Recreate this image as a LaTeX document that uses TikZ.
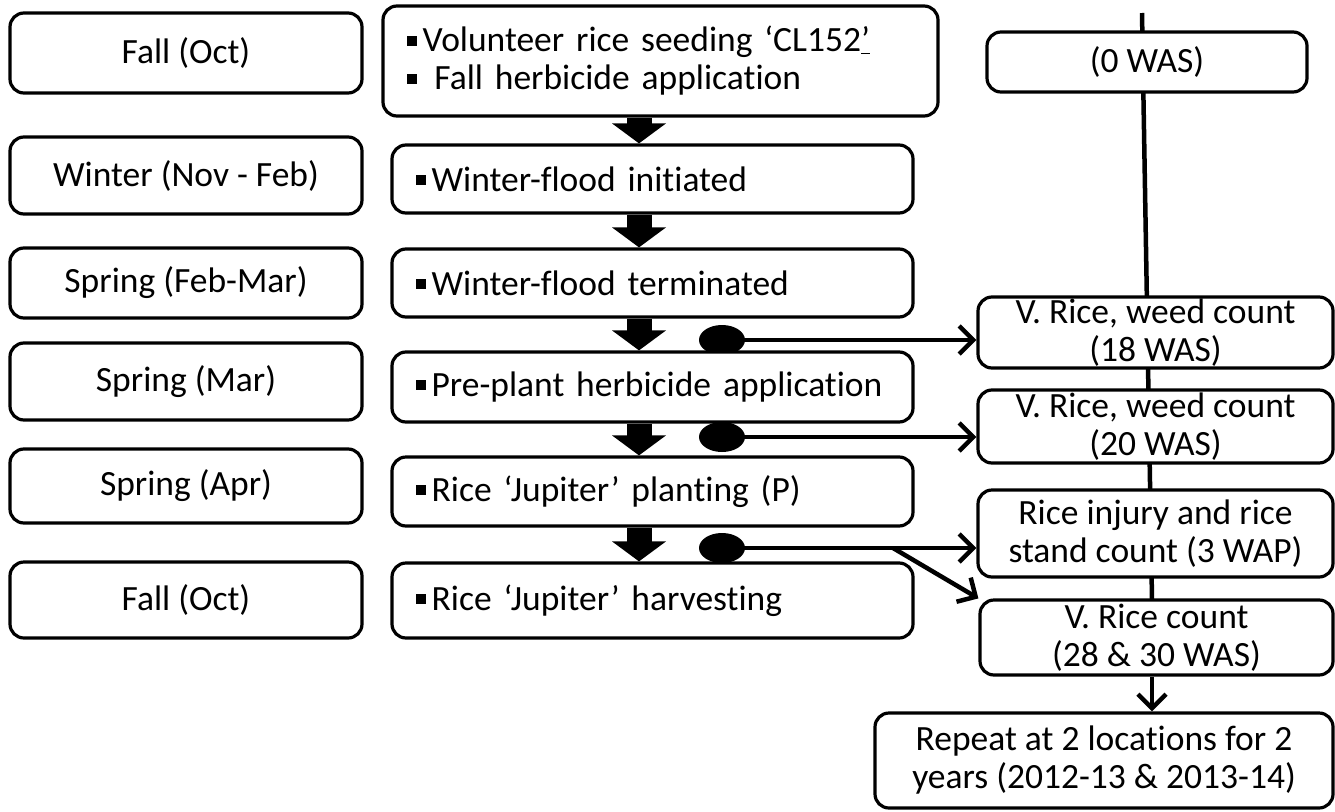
\documentclass[tikz,border=0pt]{standalone}
\usepackage{fontspec}
\setmainfont{Carlito}[Ligatures={NoCommon}]
\usetikzlibrary{arrows.meta,shapes.geometric,backgrounds}
\newcommand{\sqb}{\raisebox{0.17em}{\rule{0.27em}{0.28em}}\hspace{0.17em}}
\begin{document}
\begin{tikzpicture}[x=1pt,y=-1pt,
  box/.style={draw, line width=3.2pt, rounded corners=14pt, fill=white, inner sep=0pt,
    font=\fontsize{35.5}{38}\selectfont, align=center},
  lbox/.style={box, minimum width=352pt},
  mbox/.style={box, minimum width=521pt, text width=473pt, align=left},
  rbox/.style={box, minimum width=355pt},
  blk/.style={line width=25pt, -{Triangle[width=53pt,length=20pt]}},
  conn/.style={line width=4.5pt, -{Straight Barb[length=14pt,width=28pt]}},
  vline/.style={line width=4.5pt},
  dot/.style={ellipse, fill=black, minimum width=46pt, minimum height=30pt, inner sep=0pt},
]
\useasboundingbox (0,0) rectangle (1335,811);

% dots (behind boxes)
\node[dot] (d1) at (722,340) {};
\node[dot] (d2) at (722,437) {};
\node[dot] (d3) at (722,548) {};

% left column
\node[lbox, minimum height=80pt] (l1) at (186,53) {Fall (Oct)};
\node[lbox, minimum height=77pt] (l2) at (186,175.5) {Winter (Nov - Feb)};
\node[lbox, minimum height=70pt] (l3) at (186,283) {Spring (Feb-Mar)};
\node[lbox, minimum height=77pt] (l4) at (186,381.5) {Spring (Mar)};
\node[lbox, minimum height=74pt] (l5) at (186,486) {Spring (Apr)};
\node[lbox, minimum height=76pt] (l6) at (186,600) {Fall (Oct)};

% middle column
\node[box, minimum width=555pt, text width=507pt, align=left, minimum height=110pt] (m1) at (660.5,61)
  {\sqb Volunteer rice seeding ‘CL152\underline{’}\\\sqb{} Fall herbicide application};
\node[mbox, minimum height=68pt] (m2) at (652.5,179) {\sqb Winter-flood initiated};
\node[mbox, minimum height=68pt] (m3) at (652.5,283) {\sqb Winter-flood terminated};
\node[mbox, minimum height=70pt] (m4) at (652.5,387) {\sqb Pre-plant herbicide application};
\node[mbox, minimum height=69pt] (m5) at (652.5,491.5) {\sqb Rice ‘Jupiter’ planting (P)};
\node[mbox, minimum height=75pt] (m6) at (652.5,600.5) {\sqb Rice ‘Jupiter’ harvesting};

% right column
\node[box, minimum width=320pt, minimum height=60pt] (r1) at (1147,62) {(0 WAS)};
\node[rbox, minimum height=71pt] (r2) at (1155.5,332.5) {V. Rice, weed count\\(18 WAS)};
\node[rbox, minimum height=73pt] (r3) at (1155.5,426.5) {V. Rice, weed count\\(20 WAS)};
\node[rbox, minimum height=87pt] (r4) at (1155.5,533.5) {Rice injury and rice\\stand count (3 WAP)};
\node[box, minimum width=353pt, minimum height=75pt] (r5) at (1156.5,637.5) {V. Rice count\\(28 \& 30 WAS)};
\node[box, minimum width=458pt, minimum height=95pt] (r6) at (1104,760.5) {Repeat at 2 locations for 2\\years (2012-13 \& 2013-14)};

% vertical timeline behind right boxes
\coordinate (vt) at (1142,13);
\coordinate (vb) at (1152,600);
\begin{scope}[on background layer]
  \draw[vline] (vt) -- (vb);
\end{scope}

% block arrows
\coordinate (ax) at (639,0);
\draw[blk] (m1.south -| ax) -- (m2.north -| ax);
\draw[blk] (m2.south -| ax) -- (m3.north -| ax);
\draw[blk] (m3.south -| ax) -- (m4.north -| ax);
\draw[blk] (m4.south -| ax) -- (m5.north -| ax);
\draw[blk] (m5.south -| ax) -- (m6.north -| ax);

% sampling connectors
\draw[conn] (d1.center) -- (d1.center -| r2.west);
\draw[conn] (d2.center) -- (d2.center -| r3.west);
\draw[conn] (d3.center) -- (d3.center -| r4.west);
\coordinate (br) at (893,548);
\draw[conn] (br) -- (r5.north west);
\draw[conn] (r5.south -| vb) -- (r6.north -| vb);
\end{tikzpicture}
\end{document}
